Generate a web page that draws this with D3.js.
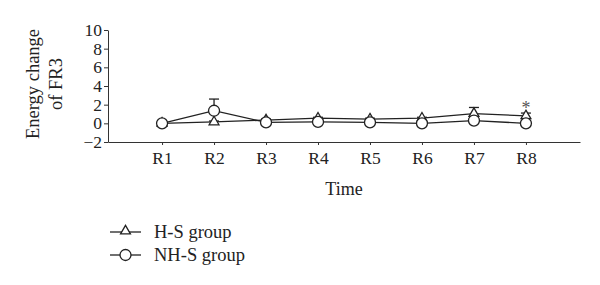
<!DOCTYPE html>
<html>
<head>
<meta charset="utf-8">
<script src="https://cdn.jsdelivr.net/npm/d3@7"></script>
<style>
  body { margin: 0; background: #fff; }
  text { font-family: "Liberation Serif", "Times New Roman", serif; fill: #222; }
</style>
</head>
<body>
<div id="chart"></div>
<script>
var categories = ['R1','R2','R3','R4','R5','R6','R7','R8'];
var hsValues  = [0, 0.15, 0.35, 0.55, 0.45, 0.55, 1.05, 0.8];
var hsErr     = [0, 0.1, 0.1, 0.1, 0.1, 0.1, 0.65, 0.3];
var nhsValues = [0, 1.35, 0.1, 0.15, 0.1, 0.0, 0.3, 0.0];
var nhsErr    = [0, 1.25, 0.05, 0.05, 0.05, 0.05, 0.1, 0.05];
var yTicks = [-2, 0, 2, 4, 6, 8, 10];
var seriesNames = ['H-S group', 'NH-S group'];

var svg = d3.select('#chart').append('svg')
  .attr('width', 600)
  .attr('height', 285);

var x = d3.scalePoint()
  .domain(categories)
  .range([108, 580])
  .padding(1.04);

var y = d3.scaleLinear()
  .domain([-2, 10])
  .range([142, 30]);

// axes
svg.append('g')
  .attr('transform', 'translate(108,0)')
  .call(d3.axisLeft(y).tickValues(yTicks).tickSize(4).tickSizeOuter(0))
  .call(function(g){
    g.select('.domain').attr('stroke', '#333');
    g.selectAll('.tick line').attr('stroke', '#333');
    g.selectAll('.tick text').style('font-size', '17.5px').attr('x', -6);
  });

svg.append('g')
  .attr('transform', 'translate(0,142)')
  .call(d3.axisBottom(x).tickSize(3).tickSizeOuter(0))
  .call(function(g){
    g.select('.domain').attr('stroke', '#333');
    g.selectAll('.tick line').attr('stroke', '#333');
    g.selectAll('.tick text').style('font-size', '17.5px').attr('y', 10);
  });

svg.append('text')
  .attr('x', 344)
  .attr('y', 195)
  .attr('text-anchor', 'middle')
  .style('font-size', '18px')
  .text('Time');

var yl = svg.append('text')
  .attr('transform', 'translate(39,84) rotate(-90)')
  .attr('text-anchor', 'middle')
  .style('font-size', '18.5px');
yl.append('tspan').attr('x', 0).attr('dy', 0).text('Energy change');
yl.append('tspan').attr('x', 0).attr('dy', 23).text('of FR3');

var line = d3.line()
  .x(function(d, i){ return x(categories[i]); })
  .y(function(d){ return y(d); });

var tri = d3.symbol().type(d3.symbolTriangle).size(42);

function drawSeries(vals, errs, marker){
  var g = svg.append('g');
  vals.forEach(function(v, i){
    var cx = x(categories[i]);
    if (errs[i] > 0) {
      g.append('line')
        .attr('x1', cx).attr('x2', cx)
        .attr('y1', y(v)).attr('y2', y(v + errs[i]))
        .attr('stroke', '#222').attr('stroke-width', 1.3);
      g.append('line')
        .attr('x1', cx - 5).attr('x2', cx + 5)
        .attr('y1', y(v + errs[i])).attr('y2', y(v + errs[i]))
        .attr('stroke', '#222').attr('stroke-width', 1.3);
    }
  });
  g.append('path')
    .datum(vals)
    .attr('d', line)
    .attr('fill', 'none')
    .attr('stroke', '#222')
    .attr('stroke-width', 1.3);
  vals.forEach(function(v, i){
    var cx = x(categories[i]);
    if (marker == 'tri') {
      g.append('path')
        .attr('d', tri)
        .attr('transform', 'translate(' + cx + ',' + y(v) + ')')
        .attr('fill', '#fff').attr('stroke', '#222').attr('stroke-width', 1.3);
    } else {
      g.append('circle')
        .attr('cx', cx).attr('cy', y(v)).attr('r', 5.5)
        .attr('fill', '#fff').attr('stroke', '#222').attr('stroke-width', 1.3);
    }
  });
}

drawSeries(hsValues, hsErr, 'tri');
drawSeries(nhsValues, nhsErr, 'circle');

// significance mark
svg.append('text')
  .attr('x', x('R8'))
  .attr('y', y(hsValues[7] + hsErr[7]) + 1)
  .attr('text-anchor', 'middle')
  .style('font-size', '18px')
  .style('fill', '#555')
  .text('*');

// legend
var legend = svg.append('g');
seriesNames.forEach(function(name, i){
  var ly = 232 + i * 23;
  legend.append('line')
    .attr('x1', 110).attr('x2', 141)
    .attr('y1', ly).attr('y2', ly)
    .attr('stroke', '#222').attr('stroke-width', 1.3);
  if (i == 0) {
    legend.append('path')
      .attr('d', tri)
      .attr('transform', 'translate(125.5,' + (ly - 1) + ')')
      .attr('fill', '#fff').attr('stroke', '#222').attr('stroke-width', 1.3);
  } else {
    legend.append('circle')
      .attr('cx', 125.5).attr('cy', ly).attr('r', 5.5)
      .attr('fill', '#fff').attr('stroke', '#222').attr('stroke-width', 1.3);
  }
  legend.append('text')
    .attr('x', 154)
    .attr('y', ly + 6)
    .style('font-size', '18.5px')
    .text(name);
});
</script>
</body>
</html>
